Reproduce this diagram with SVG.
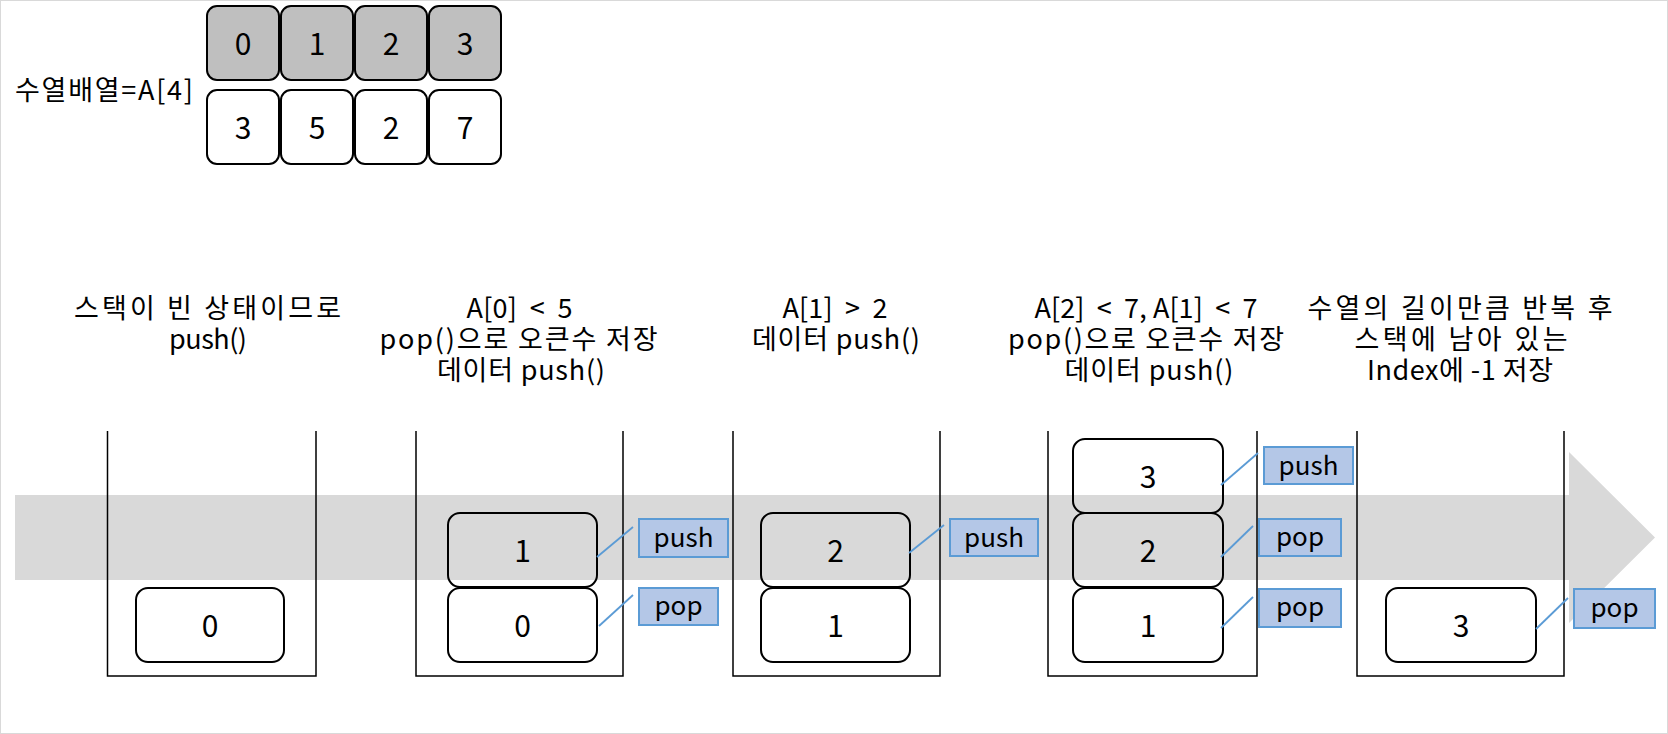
<svg xmlns="http://www.w3.org/2000/svg" width="1668" height="734" viewBox="0 0 1668 734">
<style>
text{font-family:"Noto Sans CJK KR","Noto Sans",sans-serif;fill:#000;text-anchor:middle}
.h{font-size:27px}
.num{font-size:30px}
.lbl{font-size:26px}
.cell{fill:#fff;stroke:#000;stroke-width:2}
.cellg{fill:#bfbfbf;stroke:#000;stroke-width:2}
.box{fill:none;stroke:#000;stroke-width:2}
.cont{fill:none;stroke:#000;stroke-width:1.5}
.tag{fill:#b4c7e7;stroke:#5b9bd5;stroke-width:2}
.con{stroke:#5b9bd5;stroke-width:1.8;fill:none}
</style>
<rect x="0" y="0" width="1668" height="734" fill="#fff"/>
<rect x="0.5" y="0.5" width="1667" height="733" fill="none" stroke="#d9d9d9" stroke-width="1"/>

<g id="array">
<text x="104" y="100" class="h" textLength="178" lengthAdjust="spacing">수열배열=A[4]</text>
<rect class="cellg" x="207" y="6" width="72" height="74" rx="10"/>
<rect class="cellg" x="281" y="6" width="72" height="74" rx="10"/>
<rect class="cellg" x="355" y="6" width="72" height="74" rx="10"/>
<rect class="cellg" x="429" y="6" width="72" height="74" rx="10"/>
<text class="num" x="243" y="55">0</text>
<text class="num" x="317" y="55">1</text>
<text class="num" x="391" y="55">2</text>
<text class="num" x="465" y="55">3</text>
<rect class="cell" x="207" y="90" width="72" height="74" rx="10"/>
<rect class="cell" x="281" y="90" width="72" height="74" rx="10"/>
<rect class="cell" x="355" y="90" width="72" height="74" rx="10"/>
<rect class="cell" x="429" y="90" width="72" height="74" rx="10"/>
<text class="num" x="243" y="139">3</text>
<text class="num" x="317" y="139">5</text>
<text class="num" x="391" y="139">2</text>
<text class="num" x="465" y="139">7</text>
</g>

<g id="flow-arrow">
<polygon points="15,495 1569,495 1569,452 1655,537.5 1569,623 1569,580 15,580" fill="#d9d9d9"/>
</g>

<g id="step1">
<text class="h" x="207.5" y="318" textLength="267" lengthAdjust="spacing">스택이 빈 상태이므로</text>
<text class="h" x="208" y="349" textLength="78" lengthAdjust="spacing">push()</text>
<polyline class="cont" points="107.5,431 107.5,676 316,676 316,431"/>
<rect class="box" x="136" y="588" width="148" height="74" rx="12"/>
<text class="num" x="210" y="637">0</text>
</g>

<g id="step2">
<text class="h" x="519.5" y="318" textLength="106" lengthAdjust="spacing" xml:space="preserve">A[0]  &lt;  5</text>
<text class="h" x="518.5" y="349" textLength="278" lengthAdjust="spacing">pop()으로 오큰수 저장</text>
<text class="h" x="521" y="380" textLength="168" lengthAdjust="spacing">데이터 push()</text>
<polyline class="cont" points="416,431 416,676 623,676 623,431"/>
<rect class="box" x="448" y="513" width="149" height="74" rx="12"/>
<text class="num" x="522.5" y="562">1</text>
<rect class="box" x="448" y="588" width="149" height="74" rx="12"/>
<text class="num" x="522.5" y="637">0</text>
<rect class="tag" x="639" y="519" width="89" height="38"/>
<text class="lbl" x="683.5" y="547">push</text>
<rect class="tag" x="639" y="588" width="79" height="37"/>
<text class="lbl" x="678.5" y="615">pop</text>
</g>

<g id="step3">
<text class="h" x="835" y="318" textLength="105" lengthAdjust="spacing" xml:space="preserve">A[1]  &gt;  2</text>
<text class="h" x="836" y="349" textLength="168" lengthAdjust="spacing">데이터 push()</text>
<polyline class="cont" points="733,431 733,676 940,676 940,431"/>
<rect class="box" x="761" y="513" width="149" height="74" rx="12"/>
<text class="num" x="835.5" y="562">2</text>
<rect class="box" x="761" y="588" width="149" height="74" rx="12"/>
<text class="num" x="835.5" y="637">1</text>
<rect class="tag" x="950" y="519" width="88" height="37"/>
<text class="lbl" x="994" y="547">push</text>
</g>

<g id="step4">
<text class="h" x="1146" y="318" textLength="223" lengthAdjust="spacing" xml:space="preserve">A[2]  &lt;  7, A[1]  &lt;  7</text>
<text class="h" x="1146" y="349" textLength="276" lengthAdjust="spacing">pop()으로 오큰수 저장</text>
<text class="h" x="1149" y="380" textLength="169" lengthAdjust="spacing">데이터 push()</text>
<polyline class="cont" points="1048,431 1048,676 1257,676 1257,431"/>
<rect class="box" x="1073" y="439" width="150" height="74" rx="12"/>
<text class="num" x="1148" y="488">3</text>
<rect class="box" x="1073" y="513" width="150" height="74" rx="12"/>
<text class="num" x="1148" y="562">2</text>
<rect class="box" x="1073" y="588" width="150" height="74" rx="12"/>
<text class="num" x="1148" y="637">1</text>
<rect class="tag" x="1264" y="447" width="89" height="37"/>
<text class="lbl" x="1308.5" y="475">push</text>
<rect class="tag" x="1259" y="519" width="82" height="37"/>
<text class="lbl" x="1300" y="546">pop</text>
<rect class="tag" x="1259" y="589" width="82" height="38"/>
<text class="lbl" x="1300" y="616">pop</text>
</g>

<g id="step5">
<text class="h" x="1460" y="318" textLength="305" lengthAdjust="spacing">수열의 길이만큼 반복 후</text>
<text class="h" x="1461" y="349" textLength="213" lengthAdjust="spacing">스택에 남아 있는</text>
<text class="h" x="1460" y="380" textLength="186" lengthAdjust="spacing">Index에 -1 저장</text>
<polyline class="cont" points="1357,431 1357,676 1564,676 1564,431"/>
<rect class="box" x="1386" y="588" width="150" height="74" rx="12"/>
<text class="num" x="1461" y="637">3</text>
<rect class="tag" x="1574" y="589" width="81" height="39"/>
<text class="lbl" x="1614.5" y="617">pop</text>
</g>

<g id="connectors">
<line class="con" x1="597" y1="557" x2="633" y2="527"/>
<line class="con" x1="599" y1="626" x2="633" y2="595"/>
<line class="con" x1="909" y1="553" x2="944" y2="525"/>
<line class="con" x1="1221" y1="485" x2="1258" y2="453"/>
<line class="con" x1="1221" y1="557" x2="1253" y2="526"/>
<line class="con" x1="1221" y1="628" x2="1253" y2="597"/>
<line class="con" x1="1536" y1="629" x2="1568" y2="598"/>
</g>
</svg>
